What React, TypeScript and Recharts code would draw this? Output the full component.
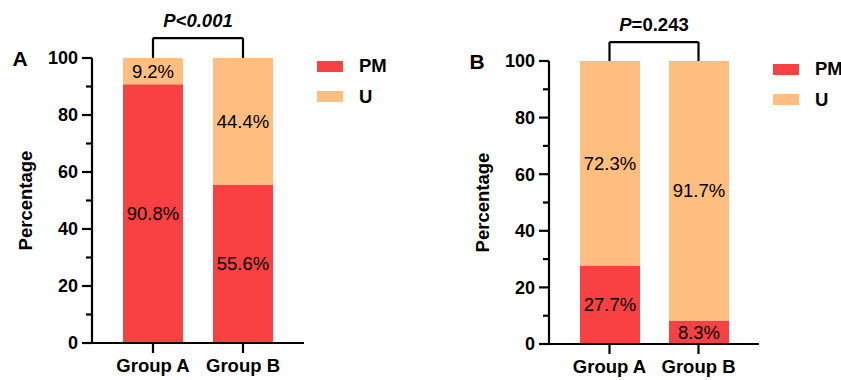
import { BarChart, Bar, XAxis, YAxis, Legend, LabelList, ReferenceLine } from 'recharts'

const groups = ['Group A', 'Group B']
const pmA = [90.8, 55.6]
const uA = [9.2, 44.4]
const pmB = [27.7, 8.3]
const uB = [72.3, 91.7]
const yTicks = [0, 10, 20, 30, 40, 50, 60, 70, 80, 90, 100]
const majorTicks = [0, 20, 40, 60, 80, 100]

const RED = '#F94144'
const ORANGE = '#FDBE7F'
const FONT = 'Liberation Sans, Arial, sans-serif'
const FS = 18.5

const rows = (pm: number[], u: number[]) => groups.map((g, i) => ({ group: g, pm: pm[i], u: u[i] }))

function YTick({ x, y, payload }: any) {
  const major = majorTicks.includes(payload.value)
  return (
    <g>
      <line x1={x - (major ? 10 : 6)} x2={x} y1={y} y2={y} stroke="#000" strokeWidth={2.2} />
      {major && (
        <text x={x - 14} y={y} dy="0.36em" textAnchor="end" fontFamily={FONT} fontWeight="bold" fontSize={18} fill="#000">
          {payload.value}
        </text>
      )}
    </g>
  )
}

function LegendBox({ payload }: any) {
  return (
    <div>
      {(payload || []).map((p: any) => (
        <div key={p.value} style={{ display: 'flex', alignItems: 'center', height: 30.5 }}>
          <span style={{ width: 26, height: 11, background: p.color, display: 'inline-block' }} />
          <span style={{ marginLeft: 16, fontFamily: FONT, fontWeight: 'bold', fontSize: FS, color: '#000' }}>
            {p.value}
          </span>
        </div>
      ))}
    </div>
  )
}

interface PanelProps {
  letter: string
  pm: number[]
  u: number[]
  width: number
  margin: { top: number; right: number; bottom: number; left: number }
  legendLeft: number
  letterX: number
  pValue: React.ReactNode
  bracket: number
}

function Panel({ letter, pm, u, width, margin, legendLeft, letterX, pValue, bracket }: PanelProps) {
  return (
    <BarChart width={width} height={380} data={rows(pm, u)} margin={margin} barSize={60}>
      <XAxis
        dataKey="group"
        interval={0}
        padding={{ left: 16, right: 16 }}
        axisLine={{ stroke: '#000', strokeWidth: 2.2 }}
        tickLine={{ stroke: '#000', strokeWidth: 2.2 }}
        tickSize={10}
        tickMargin={6}
        height={30}
        tick={{ fill: '#000', fontFamily: FONT, fontWeight: 'bold', fontSize: FS }}
      />
      <YAxis
        domain={[0, 100]}
        ticks={yTicks}
        interval={0}
        width={70}
        tickSize={0}
        tickMargin={0}
        tickLine={false}
        axisLine={{ stroke: '#000', strokeWidth: 2.2 }}
        tick={<YTick />}
        label={{
          content: ({ viewBox }: any) => {
            const lx = viewBox.x + viewBox.width - 67
            const ly = viewBox.y + viewBox.height / 2
            return (
              <g>
                <text
                  x={lx}
                  y={ly}
                  transform={`rotate(-90, ${lx}, ${ly})`}
                  textAnchor="middle"
                  dy="0.36em"
                  fontFamily={FONT}
                  fontWeight="bold"
                  fontSize={FS}
                  fill="#000"
                >
                  Percentage
                </text>
                <text x={letterX} y={viewBox.y} dy="0.36em" textAnchor="middle" fontFamily={FONT} fontWeight="bold" fontSize={21} fill="#000">
                  {letter}
                </text>
              </g>
            )
          },
        }}
      />
      <Legend
        layout="horizontal"
        verticalAlign="middle"
        align="center"
        wrapperStyle={{ left: legendLeft, top: margin.top - 7, width: 80 }}
        content={<LegendBox />}
      />
      <Bar dataKey="pm" name="PM" stackId="s" fill={RED} isAnimationActive={false}>
        <LabelList dataKey="pm" position="center" formatter={(v: any) => `${v}%`} fill="#000" fontFamily={FONT} fontSize={FS} />
      </Bar>
      <Bar dataKey="u" name="U" stackId="s" fill={ORANGE} isAnimationActive={false}>
        <LabelList dataKey="u" position="center" formatter={(v: any) => `${v}%`} fill="#000" fontFamily={FONT} fontSize={FS} />
      </Bar>
      <ReferenceLine segment={[{ x: groups[0], y: 100 }, { x: groups[0], y: bracket }]} stroke="#000" strokeWidth={2.2} ifOverflow="visible" />
      <ReferenceLine segment={[{ x: groups[1], y: 100 }, { x: groups[1], y: bracket }]} stroke="#000" strokeWidth={2.2} ifOverflow="visible" />
      <ReferenceLine
        segment={[{ x: groups[0], y: bracket }, { x: groups[1], y: bracket }]}
        stroke="#000"
        strokeWidth={2.2}
        ifOverflow="visible"
        label={{
          content: ({ viewBox }: any) => (
            <text
              x={viewBox.x + viewBox.width / 2}
              y={viewBox.y - 11}
              textAnchor="middle"
              fontFamily={FONT}
              fontWeight="bold"
              fontSize={FS}
              fill="#000"
            >
              {pValue}
            </text>
          ),
        }}
      />
    </BarChart>
  )
}

export default function App() {
  return (
    <div style={{ position: 'absolute', left: 0, top: 0, width: 841, height: 380, background: '#fff' }}>
      <div style={{ position: 'absolute', left: 0, top: 0 }}>
        <Panel
          letter="A"
          pm={pmA}
          u={uA}
          width={420}
          margin={{ top: 58, right: 116, bottom: 7, left: 22 }}
          legendLeft={317}
          letterX={20}
          pValue={<tspan fontStyle="italic">P&lt;0.001</tspan>}
          bracket={107}
        />
      </div>
      <div style={{ position: 'absolute', left: 420, top: 0 }}>
        <Panel
          letter="B"
          pm={pmB}
          u={uB}
          width={421}
          margin={{ top: 61, right: 82, bottom: 6, left: 59 }}
          legendLeft={353}
          letterX={57}
          pValue={<><tspan fontStyle="italic">P</tspan><tspan>=0.243</tspan></>}
          bracket={106.7}
        />
      </div>
    </div>
  )
}
